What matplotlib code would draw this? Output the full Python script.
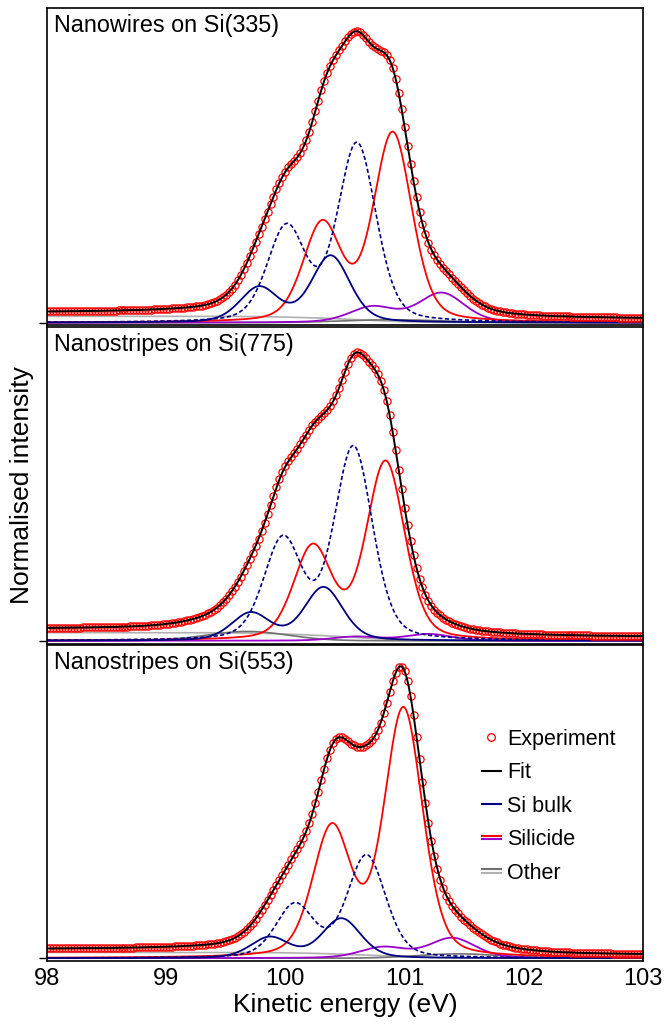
import matplotlib
matplotlib.use("Agg")
import matplotlib.pyplot as plt
import numpy as np
from matplotlib.lines import Line2D
from matplotlib.legend_handler import HandlerBase

plt.rcParams["font.family"] = ["Liberation Sans", "DejaVu Sans"]

# measurement grid (eV)
e_min, e_max, e_step = 98.0, 103.0, 0.025

panel_titles = ["Nanowires on Si(335)", "Nanostripes on Si(775)", "Nanostripes on Si(553)"]

# Si 2p doublets: centres (eV) and heights (normalised)
bulk_pos = [[99.78, 100.38], [99.71, 100.32], [99.87, 100.47]]
bulk_amp = [[0.119, 0.228], [0.094, 0.183], [0.071, 0.136]]
bulk2_pos = [[100.01, 100.60], [99.98, 100.57], [100.08, 100.68]]
bulk2_amp = [[0.323, 0.610], [0.344, 0.662], [0.182, 0.352]]
sil_pos = [[100.31, 100.90], [100.23, 100.84], [100.39, 100.99]]
sil_amp = [[0.334, 0.646], [0.318, 0.612], [0.442, 0.854]]
sil2_pos = [[100.73, 101.31], [100.59, 101.20], [100.82, 101.40]]
sil2_amp = [[0.053, 0.101], [0.014, 0.023], [0.037, 0.069]]
# broad "other" component and background
other_pos = [100.9, 99.68, 101.45]
other_amp = [0.010, 0.032, 0.015]
other_fwhm = [1.0, 0.8, 0.8]
bg_offset = [0.012, 0.012, 0.010]
bg_step = [0.022, 0.028, 0.020]

fwhm_main = 0.38
fwhm_sil2 = 0.45
eta = 0.3


def pvoigt(x, c, h, w, mix=eta):
    s = w / 2.3548
    g = np.exp(-0.5 * ((x - c) / s) ** 2)
    l = 1.0 / (1.0 + (2 * (x - c) / w) ** 2)
    return h * ((1 - mix) * g + mix * l)


def doublet(x, pos, amp, w):
    return pvoigt(x, pos[0], amp[0], w), pvoigt(x, pos[1], amp[1], w)


class DoubleLineHandler(HandlerBase):
    def create_artists(self, legend, orig_handle, xdescent, ydescent,
                       width, height, fontsize, trans):
        y = (height - ydescent) / 2.0
        xs = [-xdescent, -xdescent + width]
        out = []
        for k, ln in enumerate(orig_handle):
            dy = 1.3 if k == 0 else -1.3
            a = Line2D(xs, [y + dy, y + dy], color=ln.get_color(), lw=1.5)
            a.set_transform(trans)
            out.append(a)
        return out


navy = "#000080"
red = "#ff0000"
purple = "#9900cc"
dgray = "#707070"
lgray = "#b0b0b0"

fig = plt.figure(figsize=(6.64, 10.29), dpi=100)
rects = [[0.0708, 0.6837, 0.8976, 0.3086],
         [0.0708, 0.3746, 0.8976, 0.3076],
         [0.0708, 0.0661, 0.8976, 0.3071]]

x = np.arange(e_min, e_max + e_step / 2, e_step)
xf = np.linspace(e_min, e_max, 1201)

axes = []
for i in range(3):
    ax = fig.add_axes(rects[i])
    axes.append(ax)

    def model(xx):
        b1, b2 = doublet(xx, bulk_pos[i], bulk_amp[i], fwhm_main)
        d1, d2 = doublet(xx, bulk2_pos[i], bulk2_amp[i], fwhm_main)
        r1, r2 = doublet(xx, sil_pos[i], sil_amp[i], fwhm_main)
        p1, p2 = doublet(xx, sil2_pos[i], sil2_amp[i], fwhm_sil2)
        o = pvoigt(xx, other_pos[i], other_amp[i], other_fwhm[i], 0.0)
        return b1 + b2, d1 + d2, r1 + r2, p1 + p2, o

    b, d, r, p, o = model(xf)
    peaks = b + d + r + p + o
    # Shirley-type step: integrated intensity from the high-energy side
    cum = np.cumsum(peaks[::-1])[::-1]
    shirley = bg_step[i] * cum / cum[0]
    fit = bg_offset[i] + shirley + peaks

    bx, dx_, rx, px, ox = model(x)
    pk = bx + dx_ + rx + px + ox
    cx = np.cumsum(pk[::-1])[::-1]
    expt = bg_offset[i] + bg_step[i] * cx / cx[0] + pk

    ax.plot(xf, shirley, color=lgray, lw=1.2)
    ax.plot(xf, o, color=dgray, lw=1.2)
    ax.plot(xf, p, color=purple, lw=1.3)
    ax.plot(xf, r, color=red, lw=1.3)
    ax.plot(xf, b, color=navy, lw=1.3)
    ax.plot(xf, d, color=navy, lw=1.2, ls=(0, (2.5, 1.5)))
    ax.plot(x, expt, 'o', mfc='none', mec=red, ms=5.2, mew=0.9)
    ax.plot(xf, fit, color='black', lw=1.4)

    ax.set_xlim(98, 103)
    ax.set_ylim(-0.0096, 1.08)
    ax.set_yticks([0])
    ax.set_yticklabels([])
    ax.tick_params(axis='y', direction='out', length=6, width=1.0)
    ax.tick_params(axis='x', direction='out', length=0, labelsize=17, pad=5)
    for sp in ax.spines.values():
        sp.set_linewidth(1.2)
    ax.text(0.012, 0.982, panel_titles[i], transform=ax.transAxes,
            fontsize=16.8, va='top', ha='left')
    if i < 2:
        ax.set_xticklabels([])

axes[2].set_xticks([98, 99, 100, 101, 102, 103])
axes[2].set_xlabel("Kinetic energy (eV)", fontsize=19, labelpad=2)
axes[1].set_ylabel("Normalised intensity", fontsize=19, labelpad=0)

h_exp = Line2D([], [], ls='none', marker='o', mfc='none', mec=red, ms=5.5, mew=0.9)
h_fit = Line2D([], [], color='black', lw=1.5)
h_bulk = Line2D([], [], color=navy, lw=1.5)
h_sil = (Line2D([], [], color=red), Line2D([], [], color=purple))
h_oth = (Line2D([], [], color=dgray), Line2D([], [], color=lgray))
axes[2].legend([h_exp, h_fit, h_bulk, h_sil, h_oth],
               ["Experiment", "Fit", "Si bulk", "Silicide", "Other"],
               handler_map={tuple: DoubleLineHandler()},
               loc='center left', bbox_to_anchor=(0.705, 0.49), frameon=False,
               fontsize=15.5, handlelength=0.85, handletextpad=0.3,
               labelspacing=0.58, borderpad=0.2)

fig.savefig("out.png", dpi=100)
